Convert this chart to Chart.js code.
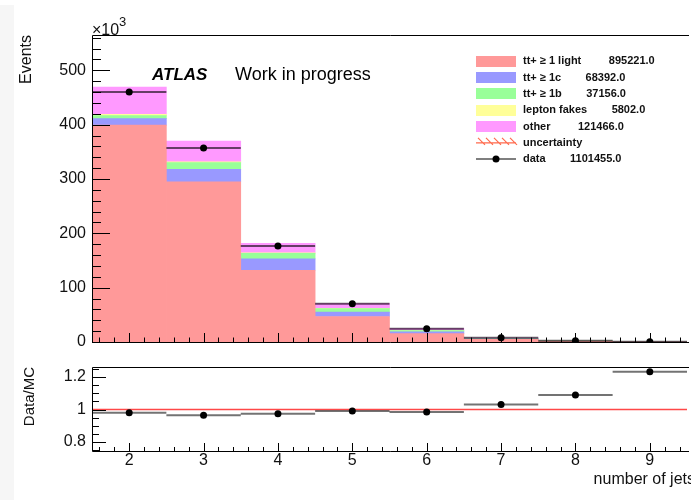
<!DOCTYPE html>
<html>
<head>
<meta charset="utf-8">
<script src="https://cdn.jsdelivr.net/npm/chart.js@4"></script>
<style>
    html, body { margin: 0; padding: 0; background: #fff; }
    body { width: 691px; height: 504px; position: relative; overflow: hidden; }
    .strip { position: absolute; left: 0; top: 5px; width: 14px; height: 495px; background: #f6f6f6; }
    .panel { position: absolute; left: 0; width: 691px; }
    #main-wrap { top: 0; height: 350px; }
    #ratio-wrap { top: 350px; height: 154px; }
</style>
</head>
<body>
<div class="strip"></div>
<div class="panel" id="main-wrap"><canvas id="main-chart"></canvas></div>
<div class="panel" id="ratio-wrap"><canvas id="ratio-chart"></canvas></div>
<script>
// number of jets, events in units of 10^3
const bins = [2, 3, 4, 5, 6, 7, 8, 9];
const light = [399, 295, 132, 47, 15.5, 4.8, 1.1, 0.3];
const charm = [12, 23, 21, 8, 3, 0.9, 0.25, 0.07];
const bottom = [5.5, 12, 10, 6.5, 2.5, 0.6, 0.2, 0.05];
const fakes = [2.5, 1.8, 1, 0.35, 0.1, 0.04, 0.01, 0];
const other = [50, 38.2, 17.4, 9.2, 3.9, 1.3, 0.4, 0.1];
const data = [460, 357, 176.9, 70.4, 24.6, 7.9, 2.1, 0.64];
const ratio = [0.981, 0.965, 0.975, 0.991, 0.985, 1.031, 1.089, 1.233];

const mainTicks = [0, 100, 200, 300, 400, 500];
const ratioTicks = [0.8, 1, 1.2];

const legendLabels = [
    "tt+ ≥ 1 light         895221.0",
    "tt+ ≥ 1c        68392.0",
    "tt+ ≥ 1b        37156.0",
    "lepton fakes        5802.0",
    "other         121466.0",
    "uncertainty",
    "data        1101455.0",
];

const COLORS = {
    light: "#ff9999",
    charm: "#9999ff",
    bottom: "#99ff99",
    fakes: "#ffff99",
    other: "#ff99ff",
};

Chart.defaults.font.family = '"Liberation Sans", Arial, Helvetica, sans-serif';
Chart.defaults.color = "#111";

function points(values) {
    return bins.map((b, i) => ({ x: b, y: values[i] }));
}

// horizontal bin-width segments, broken between bins
function binSegments(values) {
    return bins.flatMap((b, i) => [
        { x: b - 0.5, y: values[i] },
        { x: b + 0.5, y: values[i] },
        { x: b + 0.5, y: null },
    ]);
}

function stackBar(label, values, color) {
    return {
        type: "bar",
        label,
        data: points(values),
        backgroundColor: color,
        borderWidth: 0,
        barPercentage: 1,
        categoryPercentage: 1,
        stack: "mc",
        order: 5,
    };
}

// ROOT style frame with inward ticks
const rootFrame = {
    id: "rootFrame",
    afterDatasetsDraw(chart, args, opts) {
        const { ctx, chartArea: a, scales: { x, y } } = chart;
        const px = (v) => Math.round(v) + 0.5;
        ctx.save();
        ctx.strokeStyle = "#000";
        ctx.lineWidth = 1;
        ctx.beginPath();
        ctx.moveTo(px(a.left), px(a.top));
        ctx.lineTo(a.right + 2, px(a.top));
        ctx.moveTo(px(a.left), px(a.top));
        ctx.lineTo(px(a.left), px(a.bottom));
        ctx.lineTo(a.right + 2, px(a.bottom));

        const yStart = Math.ceil(y.min / opts.yMinor - 1e-6);
        const yEnd = Math.floor(y.max / opts.yMinor + 1e-6);
        for (let k = yStart; k <= yEnd; k++) {
            const v = k * opts.yMinor;
            const r = v / opts.yMajor;
            const major = Math.abs(r - Math.round(r)) < 1e-6;
            const p = px(y.getPixelForValue(v));
            ctx.moveTo(a.left, p);
            ctx.lineTo(a.left + (major ? opts.yMajorLen : opts.yMinorLen), p);
        }

        const xStart = Math.ceil(x.min / opts.xMinor - 1e-6);
        const xEnd = Math.floor(x.max / opts.xMinor + 1e-6);
        for (let k = xStart; k <= xEnd; k++) {
            const v = k * opts.xMinor;
            const major = Math.abs(v - Math.round(v)) < 1e-6;
            const p = px(x.getPixelForValue(v));
            ctx.moveTo(p, a.bottom);
            ctx.lineTo(p, a.bottom - (major ? opts.xMajorLen : opts.xMinorLen));
        }
        ctx.stroke();
        ctx.restore();
    },
};

const mainDecor = {
    id: "mainDecor",
    afterDraw(chart) {
        const { ctx, chartArea: a } = chart;
        ctx.save();
        ctx.fillStyle = "#111";
        ctx.textBaseline = "alphabetic";
        ctx.textAlign = "left";
        ctx.font = '16px "Liberation Sans", Arial, sans-serif';
        ctx.fillText("×10", a.left, a.top);
        ctx.font = '13px "Liberation Sans", Arial, sans-serif';
        ctx.fillText("3", a.left + 27, a.top - 9);

        ctx.fillStyle = "#000";
        ctx.font = 'italic bold 17px "Liberation Sans", Arial, sans-serif';
        ctx.fillText("ATLAS", 152, 80);
        ctx.font = '18px "Liberation Sans", Arial, sans-serif';
        ctx.fillText("Work in progress", 235, 80);

        // legend
        const fills = [COLORS.light, COLORS.charm, COLORS.bottom, COLORS.fakes, COLORS.other];
        const x0 = 476, w = 40, h = 11, textX = 523, y0 = 61.3, dy = 16.3;
        ctx.font = 'bold 11px "Liberation Sans", Arial, sans-serif';
        ctx.textBaseline = "middle";
        legendLabels.forEach((label, i) => {
            const cy = y0 + i * dy;
            if (i < fills.length) {
                ctx.fillStyle = fills[i];
                ctx.fillRect(x0, Math.round(cy - h / 2), w, h);
            } else if (label === "uncertainty") {
                ctx.strokeStyle = "#ff6a4d";
                ctx.lineWidth = 1.2;
                ctx.beginPath();
                ctx.moveTo(x0, cy);
                ctx.lineTo(x0 + w, cy);
                for (let k = 0; k < 5; k++) {
                    ctx.moveTo(x0 + 2 + k * 8, cy - 5);
                    ctx.lineTo(x0 + 9 + k * 8, cy + 2);
                }
                ctx.stroke();
            } else {
                ctx.strokeStyle = "#555";
                ctx.lineWidth = 1.5;
                ctx.beginPath();
                ctx.moveTo(x0, cy);
                ctx.lineTo(x0 + w, cy);
                ctx.stroke();
                ctx.fillStyle = "#000";
                ctx.beginPath();
                ctx.arc(x0 + w / 2, cy, 3.5, 0, Math.PI * 2);
                ctx.fill();
            }
            ctx.fillStyle = "#111";
            ctx.fillText(label, textX, cy);
        });
        ctx.restore();
    },
};

const ratioDecor = {
    id: "ratioDecor",
    afterDraw(chart) {
        const { ctx, chartArea: a } = chart;
        ctx.save();
        ctx.fillStyle = "#111";
        ctx.font = '16px "Liberation Sans", Arial, sans-serif';
        ctx.textAlign = "right";
        ctx.textBaseline = "alphabetic";
        ctx.fillText("number of jets", a.right + 8, a.bottom + 33);
        ctx.restore();
    },
};

function noLabelPadding(scale, width) {
    scale.width = width;
    scale.paddingTop = 0;
    scale.paddingBottom = 0;
}

function initMainChart() {
    const canvas = document.getElementById("main-chart");
    new Chart(canvas, {
        type: "bar",
        data: {
            datasets: [
                {
                    type: "line",
                    label: "data",
                    data: points(data),
                    showLine: false,
                    pointRadius: 3.5,
                    pointBorderWidth: 0,
                    pointBackgroundColor: "#000",
                    stack: "data",
                    order: 0,
                },
                {
                    type: "line",
                    label: "data width",
                    data: binSegments(data),
                    borderColor: "rgba(0, 0, 0, 0.6)",
                    borderWidth: 2,
                    pointRadius: 0,
                    spanGaps: false,
                    stack: "width",
                    order: 1,
                },
                stackBar("tt+ ≥ 1 light", light, COLORS.light),
                stackBar("tt+ ≥ 1c", charm, COLORS.charm),
                stackBar("tt+ ≥ 1b", bottom, COLORS.bottom),
                stackBar("lepton fakes", fakes, COLORS.fakes),
                stackBar("other", other, COLORS.other),
            ],
        },
        options: {
            responsive: true,
            maintainAspectRatio: false,
            animation: false,
            layout: { padding: { top: 35, right: 0, bottom: 8, left: 0 } },
            plugins: {
                legend: { display: false },
                tooltip: { enabled: false },
                rootFrame: { yMinor: 20, yMajor: 100, yMajorLen: 18, yMinorLen: 9, xMinor: 0.2, xMajorLen: 9, xMinorLen: 4.5 },
            },
            scales: {
                x: {
                    type: "linear",
                    min: 1.5,
                    max: 9.5,
                    offset: false,
                    display: false,
                    afterBuildTicks(scale) {
                        scale.ticks = bins.map((v) => ({ value: v }));
                    },
                },
                y: {
                    min: 0,
                    max: 565,
                    stacked: true,
                    afterBuildTicks(scale) {
                        scale.ticks = mainTicks.map((v) => ({ value: v }));
                    },
                    afterFit(scale) {
                        noLabelPadding(scale, 92);
                    },
                    grid: { display: false, drawTicks: false },
                    border: { display: false },
                    ticks: { padding: 6, font: { size: 16 }, color: "#111" },
                    title: {
                        display: true,
                        text: "Events",
                        align: "end",
                        color: "#111",
                        font: { size: 16 },
                        padding: { top: 17, bottom: 0 },
                    },
                },
            },
        },
        plugins: [rootFrame, mainDecor],
    });
}

function initRatioChart() {
    const canvas = document.getElementById("ratio-chart");
    new Chart(canvas, {
        type: "line",
        data: {
            datasets: [
                {
                    label: "data/MC",
                    data: points(ratio),
                    showLine: false,
                    pointRadius: 3.5,
                    pointBorderWidth: 0,
                    pointBackgroundColor: "#000",
                    order: 0,
                },
                {
                    label: "data/MC width",
                    data: binSegments(ratio),
                    borderColor: "rgba(0, 0, 0, 0.55)",
                    borderWidth: 2,
                    pointRadius: 0,
                    spanGaps: false,
                    order: 1,
                },
                {
                    label: "uncertainty",
                    data: [{ x: 1.5, y: 1 }, { x: 9.5, y: 1 }],
                    borderColor: "rgba(255, 40, 40, 0.85)",
                    borderWidth: 1.5,
                    pointRadius: 0,
                    order: 2,
                },
            ],
        },
        options: {
            responsive: true,
            maintainAspectRatio: false,
            animation: false,
            layout: { padding: { top: 17, right: 0, bottom: 0, left: 0 } },
            plugins: {
                legend: { display: false },
                tooltip: { enabled: false },
                rootFrame: { yMinor: 0.05, yMajor: 0.2, yMajorLen: 14, yMinorLen: 7, xMinor: 0.2, xMajorLen: 8, xMinorLen: 4 },
            },
            scales: {
                x: {
                    type: "linear",
                    min: 1.5,
                    max: 9.5,
                    afterBuildTicks(scale) {
                        scale.ticks = bins.map((v) => ({ value: v }));
                    },
                    afterFit(scale) {
                        scale.height = 53;
                    },
                    grid: { display: false, drawTicks: false },
                    border: { display: false },
                    ticks: { padding: 0, font: { size: 16 }, color: "#111", maxRotation: 0 },
                },
                y: {
                    min: 0.745,
                    max: 1.262,
                    afterBuildTicks(scale) {
                        scale.ticks = ratioTicks.map((v) => ({ value: v }));
                    },
                    afterFit(scale) {
                        noLabelPadding(scale, 92);
                    },
                    grid: { display: false, drawTicks: false },
                    border: { display: false },
                    ticks: {
                        padding: 6,
                        font: { size: 16 },
                        color: "#111",
                        callback(value) {
                            return String(value);
                        },
                    },
                    title: {
                        display: true,
                        text: "Data/MC",
                        align: "end",
                        color: "#111",
                        font: { size: 15 },
                        padding: { top: 21, bottom: 0 },
                    },
                },
            },
        },
        plugins: [rootFrame, ratioDecor],
    });
}

initMainChart();
initRatioChart();
</script>
</body>
</html>
